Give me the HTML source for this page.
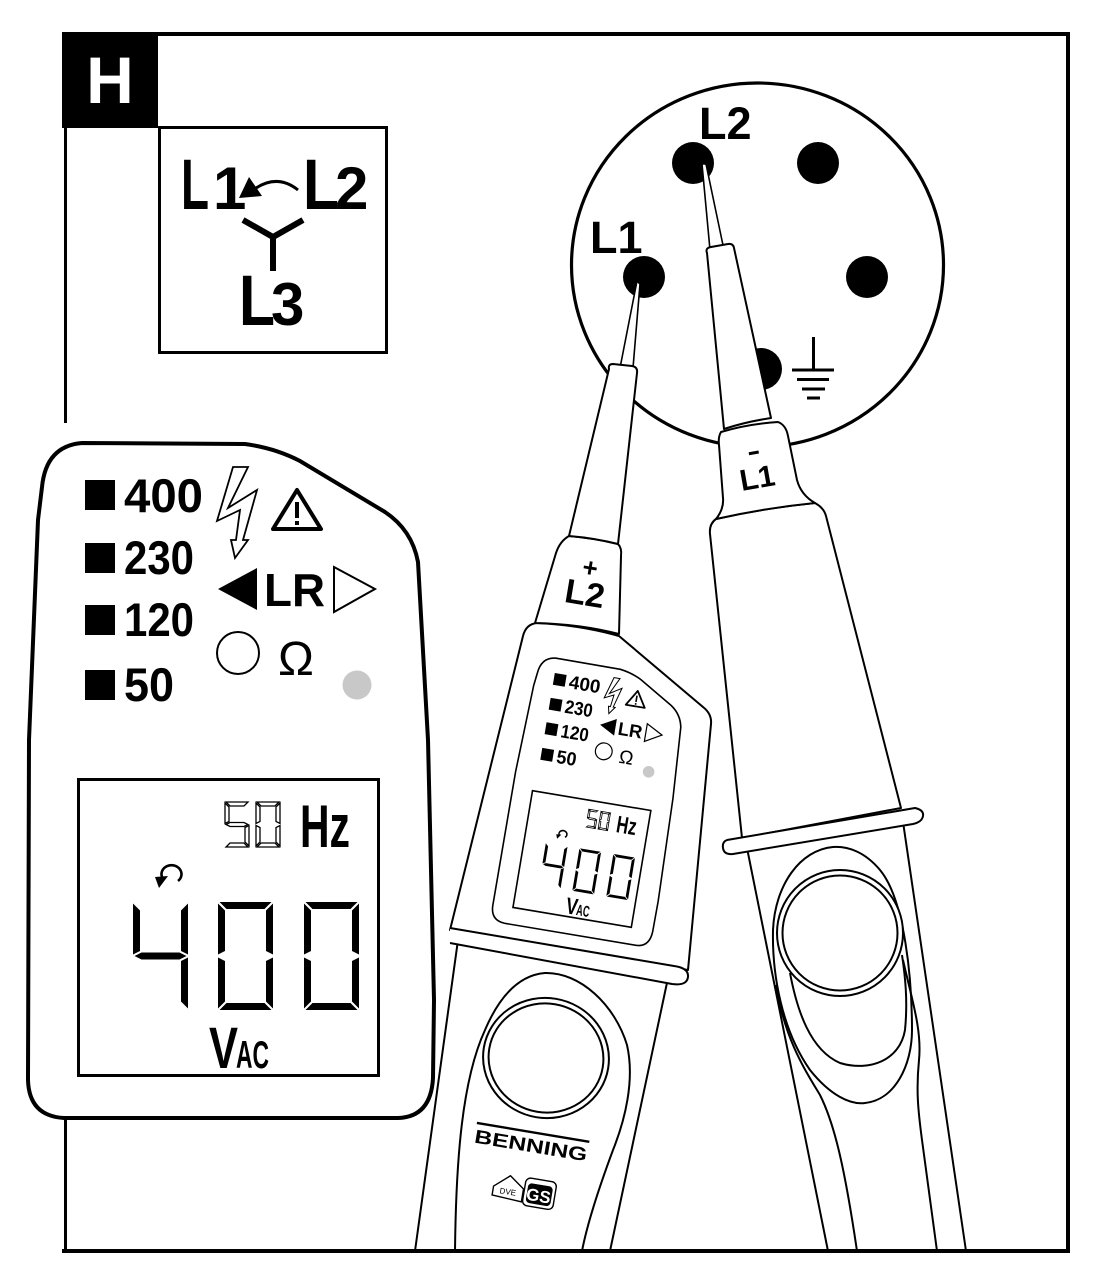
<!DOCTYPE html>
<html><head><meta charset="utf-8"><style>html,body{margin:0;padding:0;background:#fff}svg{display:block}</style></head>
<body>
<svg xmlns="http://www.w3.org/2000/svg" width="1094" height="1273" viewBox="0 0 1094 1273" font-family="'Liberation Sans', sans-serif">
<rect width="1094" height="1273" fill="#fff"/>

<!-- H box -->
<rect x="62" y="32" width="96" height="96" fill="#000"/>
<text x="110" y="103" font-size="66" font-weight="bold" fill="#fff" text-anchor="middle">H</text>

<!-- L box -->
<rect x="159.5" y="127.5" width="227" height="225" fill="none" stroke="#000" stroke-width="3"/>
<g font-family="'Liberation Sans Narrow','Liberation Sans',sans-serif" font-weight="bold">
<text x="181" y="209" font-size="71" textLength="28" lengthAdjust="spacingAndGlyphs">L</text>
<text x="213" y="209" font-size="60">1</text>
<text x="303" y="209" font-size="71" textLength="36" lengthAdjust="spacingAndGlyphs">L</text>
<text x="335" y="209" font-size="60">2</text>
<text x="239" y="325" font-size="71" textLength="36" lengthAdjust="spacingAndGlyphs">L</text>
<text x="271" y="325" font-size="60">3</text>
</g>
<polygon points="249,177 239,198 262,196" fill="#000"/>
<path d="M 256,188 Q 278,174 298,190" fill="none" stroke="#000" stroke-width="3"/>
<path d="M 243,220 L 273,237 L 303,220 M 273,237 L 273,271" fill="none" stroke="#000" stroke-width="6"/>

<!-- socket -->
<ellipse cx="757.5" cy="265" rx="186" ry="182" fill="#fff" stroke="#000" stroke-width="3.2"/>
<circle cx="693" cy="163" r="21"/>
<circle cx="818" cy="163" r="21"/>
<circle cx="867" cy="277" r="21"/>
<circle cx="644" cy="277" r="21"/>
<circle cx="761" cy="369" r="21"/>
<text x="699" y="139" font-size="45" font-weight="bold">L2</text>
<text x="590" y="253" font-size="45" font-weight="bold">L1</text>
<rect x="812" y="337" width="3" height="34"/>
<rect x="792" y="368.5" width="42" height="3"/>
<rect x="797" y="378" width="32" height="3"/>
<rect x="802" y="387.5" width="23" height="3"/>
<rect x="807" y="396.5" width="13" height="3"/>

<!-- RIGHT PROBE (L1) -->
<g stroke="#000" stroke-width="2" fill="#fff" stroke-linejoin="round">
<path d="M 747,848 L 828,1251 L 966,1251 L 902,815 Z"/>
<path d="M 833,847 C 800,850 775,885 773,930 C 772,975 782,1030 810,1070 C 830,1095 850,1105 865,1103 C 895,1100 912,1065 912,1030 C 912,980 905,900 880,870 C 865,852 848,846 833,847 Z" fill="none"/>
<path d="M 790,973 C 797,1010 810,1050 840,1063 C 870,1072 900,1060 905,1030 C 908,1000 905,975 902,955" fill="none"/>
<path d="M 776,985 C 785,1040 805,1070 820,1095 C 835,1125 845,1170 857,1251" fill="none"/>
<path d="M 903,960 C 912,1000 922,1030 919,1060 C 916,1090 918,1110 922,1140 L 937,1251" fill="none"/>
<circle cx="840" cy="933" r="63"/>
<circle cx="840" cy="933" r="57.5"/>
<path d="M 716,519 Q 765,508 815,503 Q 824,508 826,516 L 901,808 L 742,838 L 710,534 Q 709,524 716,519 Z"/>
<path d="M 727,840 L 915,808 Q 924,810 923,816 Q 922,822 913,824 L 733,854 Q 724,855 723,848 Q 722,842 727,840 Z"/>
<path d="M 721,432 Q 748,424 778,422 Q 786,425 788,436 L 797,480 Q 801,495 815,503 Q 765,508 716,519 Q 724,509 723,498 L 719,445 Q 718,437 721,432 Z"/>
<polygon points="702,164 706,164 724,250 710,250" stroke-width="1.6"/>
<path d="M 707,253 Q 705,248 711,247 L 728,244 Q 733,243 734,248 L 771,418 Q 745,422 724,429 Z"/>
</g>
<g transform="translate(759,488) rotate(-10)">
<text x="0" y="0" font-size="30" font-weight="bold" text-anchor="middle">L1</text>
<rect x="-4" y="-37" width="10" height="3"/>
</g>

<!-- LEFT PROBE (L2) -->
<g stroke="#000" stroke-width="2" fill="#fff" stroke-linejoin="round">
<path d="M 458,940 L 415,1251 L 610,1251 L 668,978 Z"/>
<path d="M 455,1251 C 456,1160 462,1080 485,1030 C 500,995 520,975 545,973 C 580,972 615,1005 627,1045 C 635,1080 625,1120 613,1150 C 600,1185 588,1220 582,1251" fill="none"/>
<ellipse cx="546" cy="1058" rx="63" ry="60" transform="rotate(9.5 546 1058)"/>
<ellipse cx="546" cy="1058" rx="57.5" ry="54.5" transform="rotate(9.5 546 1058)"/>
<path d="M 523,636 Q 526,624 537,623 Q 580,625 619,636 L 703,707 Q 712,714 711,724 L 688,970 L 450,930 Z"/>
<path d="M 450,928 L 674,966 Q 689,968 688,977 Q 687,986 672,984 L 450,943 Z" stroke="none"/>
<path d="M 450,928 L 674,966 Q 689,968 688,977 Q 687,986 672,984 L 450,943" fill="none"/>
<path d="M 569,536 Q 594,538 618,544 Q 622,548 621,556 L 619,634 Q 580,624 535,623 L 556,553 Q 560,541 569,536 Z"/>
<polygon points="637,281 640,284 633,368 620,368" stroke-width="1.6"/>
<path d="M 609,369 Q 608,364 613,364 L 632,366 Q 638,367 637,373 L 618,544 Q 594,538 569,536 Z"/>
</g>
<g transform="translate(583,605) rotate(9.5)" font-weight="bold">
<text x="0" y="0" font-size="34" text-anchor="middle">L2</text>
<text x="1" y="-29" font-size="26" text-anchor="middle">+</text>
</g>
<g transform="translate(531,1145) rotate(9.5)">
<rect x="-57" y="-14" width="114" height="2.4"/>
<text x="0" y="7" font-size="19" font-weight="bold" text-anchor="middle" textLength="114" lengthAdjust="spacingAndGlyphs">BENNING</text>
</g>
<g transform="translate(523,1192) rotate(9.5)">
<polygon points="-30,-1 -15,-14 0,-3 0,10 -30,8" fill="#fff" stroke="#000" stroke-width="1.4"/>
<text x="-15" y="5" font-size="8" text-anchor="middle">DVE</text>
<rect x="1" y="-15" width="31" height="28" rx="5" fill="#fff" stroke="#000" stroke-width="1.4"/>
<rect x="4" y="-10" width="25" height="20" rx="4" fill="#000"/>
<text x="16" y="7" font-size="17" font-weight="bold" text-anchor="middle" fill="#fff">GS</text>
</g>

<!-- small display on probe (scaled copy of panel) -->
<g transform="translate(532,790) rotate(9.5) scale(0.4) translate(-77,-778)">
<path d="M 38,520 L 42,487 Q 46,446 82,443 L 245,444 Q 275,448 300,461 L 385,512 Q 412,530 418,562 L 428,740 L 434,1000 L 433,1078 Q 431,1117 398,1118 L 64,1118 Q 29,1116 28,1080 L 29,740 Z" fill="#fff" stroke="#000" stroke-width="4"/>
<rect x="85" y="480" width="30" height="30"/>
<rect x="85" y="543" width="30" height="30"/>
<rect x="85" y="605" width="30" height="30"/>
<rect x="85" y="670" width="30" height="30"/>
<g font-weight="bold" font-size="47">
<text x="124" y="512" textLength="79" lengthAdjust="spacingAndGlyphs">400</text>
<text x="124" y="574" textLength="70" lengthAdjust="spacingAndGlyphs">230</text>
<text x="124" y="636" textLength="70" lengthAdjust="spacingAndGlyphs">120</text>
<text x="124" y="701" textLength="50" lengthAdjust="spacingAndGlyphs">50</text>
</g>
<polygon points="233,467 248,467 228,508 257,490 243,540 248,540 235,558 231,540 236,540 240,510 217,521" fill="#fff" stroke="#000" stroke-width="2.5"/>
<polygon points="297,490 321,529 273,529" fill="none" stroke="#000" stroke-width="4.5" stroke-linejoin="round"/>
<rect x="295" y="502" width="4" height="16"/><rect x="295" y="521" width="4" height="4"/>
<polygon points="218,589 257,568 257,610"/>
<text x="264" y="606" font-size="46" font-weight="bold" textLength="61" lengthAdjust="spacingAndGlyphs">LR</text>
<polygon points="334,567 375,589 334,612" fill="#fff" stroke="#000" stroke-width="3"/>
<circle cx="238" cy="653" r="21" fill="none" stroke="#000" stroke-width="3"/>
<text x="296" y="675" font-size="48" text-anchor="middle">Ω</text>
<circle cx="357" cy="685" r="14.5" fill="#c8c8c8"/>
<rect x="78.5" y="779.5" width="300" height="296" fill="#fff" stroke="#000" stroke-width="4"/>
<g fill="#fff" stroke="#000" stroke-width="2">
<polygon points="226,802 248,802 244,806 230,806"/><polygon points="225,803 229,807 229,821.5 225,823.5"/><polygon points="226,824.5 230,822.5 244,822.5 248,824.5 244,826.5 230,826.5"/><polygon points="249,825.5 249,846 245,842 245,827.5"/><polygon points="230,843 244,843 248,847 226,847"/>
<polygon points="257,802 279,802 275,806 261,806"/><polygon points="280,803 280,823.5 276,821.5 276,807"/><polygon points="280,825.5 280,846 276,842 276,827.5"/><polygon points="261,843 275,843 279,847 257,847"/><polygon points="256,825.5 260,827.5 260,842 256,846"/><polygon points="256,803 260,807 260,821.5 256,823.5"/>
</g>
<text x="300" y="847" font-size="60" font-weight="bold" font-family="'Liberation Sans Narrow','Liberation Sans',sans-serif" textLength="50" lengthAdjust="spacingAndGlyphs">Hz</text>
<path d="M 178,881 A 10 9 0 1 0 162,877" fill="none" stroke="#000" stroke-width="4"/>
<polygon points="155,877 168,876 159,888"/>
<g>
<polygon points="133,903.5 140,910.5 140,951 133,954.5"/><polygon points="134.5,956 141.5,952.5 179.5,952.5 186.5,956 179.5,959.5 141.5,959.5"/><polygon points="188,903.5 188,954.5 181,951 181,910.5"/><polygon points="188,957.5 188,1008.5 181,1001.5 181,961"/>
<polygon points="219.5,902 271.5,902 264.5,909 226.5,909"/><polygon points="273,903.5 273,954.5 266,951 266,910.5"/><polygon points="273,957.5 273,1008.5 266,1001.5 266,961"/><polygon points="226.5,1003 264.5,1003 271.5,1010 219.5,1010"/><polygon points="218,957.5 225,961 225,1001.5 218,1008.5"/><polygon points="218,903.5 225,910.5 225,951 218,954.5"/>
<polygon points="305.5,902 357.5,902 350.5,909 312.5,909"/><polygon points="359,903.5 359,954.5 352,951 352,910.5"/><polygon points="359,957.5 359,1008.5 352,1001.5 352,961"/><polygon points="312.5,1003 350.5,1003 357.5,1010 305.5,1010"/><polygon points="304,957.5 311,961 311,1001.5 304,1008.5"/><polygon points="304,903.5 311,910.5 311,951 304,954.5"/>
</g>
<g font-weight="bold" font-family="'Liberation Sans Narrow','Liberation Sans',sans-serif">
<text x="209" y="1068" font-size="58" textLength="29" lengthAdjust="spacingAndGlyphs">V</text>
<text x="236" y="1068" font-size="39" textLength="33" lengthAdjust="spacingAndGlyphs">AC</text>
</g>
</g>

<!-- BIG PANEL -->
<g>
<path d="M 38,520 L 42,487 Q 46,446 82,443 L 245,444 Q 275,448 300,461 L 385,512 Q 412,530 418,562 L 428,740 L 434,1000 L 433,1078 Q 431,1117 398,1118 L 64,1118 Q 29,1116 28,1080 L 29,740 Z" fill="#fff" stroke="#000" stroke-width="4"/>
<rect x="85" y="480" width="30" height="30"/>
<rect x="85" y="543" width="30" height="30"/>
<rect x="85" y="605" width="30" height="30"/>
<rect x="85" y="670" width="30" height="30"/>
<g font-weight="bold" font-size="47">
<text x="124" y="512" textLength="79" lengthAdjust="spacingAndGlyphs">400</text>
<text x="124" y="574" textLength="70" lengthAdjust="spacingAndGlyphs">230</text>
<text x="124" y="636" textLength="70" lengthAdjust="spacingAndGlyphs">120</text>
<text x="124" y="701" textLength="50" lengthAdjust="spacingAndGlyphs">50</text>
</g>
<polygon points="233,467 248,467 228,508 257,490 243,540 248,540 235,558 231,540 236,540 240,510 217,521" fill="#fff" stroke="#000" stroke-width="1.8"/>
<polygon points="297,490 321,529 273,529" fill="none" stroke="#000" stroke-width="4" stroke-linejoin="round"/>
<rect x="295" y="502" width="4" height="16"/><rect x="295" y="521" width="4" height="4"/>
<polygon points="218,589 257,568 257,610"/>
<text x="264" y="606" font-size="46" font-weight="bold" textLength="61" lengthAdjust="spacingAndGlyphs">LR</text>
<polygon points="334,567 375,589 334,612" fill="#fff" stroke="#000" stroke-width="2"/>
<circle cx="238" cy="653" r="21" fill="none" stroke="#000" stroke-width="2"/>
<text x="296" y="675" font-size="48" text-anchor="middle">Ω</text>
<circle cx="357" cy="685" r="14.5" fill="#c8c8c8"/>
<rect x="78.5" y="779.5" width="300" height="296" fill="#fff" stroke="#000" stroke-width="3"/>
<g fill="#fff" stroke="#000" stroke-width="1.3">
<polygon points="226,802 248,802 244,806 230,806"/><polygon points="225,803 229,807 229,821.5 225,823.5"/><polygon points="226,824.5 230,822.5 244,822.5 248,824.5 244,826.5 230,826.5"/><polygon points="249,825.5 249,846 245,842 245,827.5"/><polygon points="230,843 244,843 248,847 226,847"/>
<polygon points="257,802 279,802 275,806 261,806"/><polygon points="280,803 280,823.5 276,821.5 276,807"/><polygon points="280,825.5 280,846 276,842 276,827.5"/><polygon points="261,843 275,843 279,847 257,847"/><polygon points="256,825.5 260,827.5 260,842 256,846"/><polygon points="256,803 260,807 260,821.5 256,823.5"/>
</g>
<text x="300" y="847" font-size="60" font-weight="bold" font-family="'Liberation Sans Narrow','Liberation Sans',sans-serif" textLength="50" lengthAdjust="spacingAndGlyphs">Hz</text>
<path d="M 178,881 A 10 9 0 1 0 162,877" fill="none" stroke="#000" stroke-width="2.6"/>
<polygon points="155,877 168,876 159,888"/>
<g>
<polygon points="133,903.5 140,910.5 140,951 133,954.5"/><polygon points="134.5,956 141.5,952.5 179.5,952.5 186.5,956 179.5,959.5 141.5,959.5"/><polygon points="188,903.5 188,954.5 181,951 181,910.5"/><polygon points="188,957.5 188,1008.5 181,1001.5 181,961"/>
<polygon points="219.5,902 271.5,902 264.5,909 226.5,909"/><polygon points="273,903.5 273,954.5 266,951 266,910.5"/><polygon points="273,957.5 273,1008.5 266,1001.5 266,961"/><polygon points="226.5,1003 264.5,1003 271.5,1010 219.5,1010"/><polygon points="218,957.5 225,961 225,1001.5 218,1008.5"/><polygon points="218,903.5 225,910.5 225,951 218,954.5"/>
<polygon points="305.5,902 357.5,902 350.5,909 312.5,909"/><polygon points="359,903.5 359,954.5 352,951 352,910.5"/><polygon points="359,957.5 359,1008.5 352,1001.5 352,961"/><polygon points="312.5,1003 350.5,1003 357.5,1010 305.5,1010"/><polygon points="304,957.5 311,961 311,1001.5 304,1008.5"/><polygon points="304,903.5 311,910.5 311,951 304,954.5"/>
</g>
<g font-weight="bold" font-family="'Liberation Sans Narrow','Liberation Sans',sans-serif">
<text x="209" y="1068" font-size="58" textLength="29" lengthAdjust="spacingAndGlyphs">V</text>
<text x="236" y="1068" font-size="39" textLength="33" lengthAdjust="spacingAndGlyphs">AC</text>
</g>
</g>

<!-- frame -->
<rect x="62" y="32" width="1008" height="4"/>
<rect x="1066" y="32" width="4" height="1221"/>
<rect x="62" y="1249" width="1008" height="4"/>
<rect x="64" y="127" width="3" height="296"/>
<rect x="64" y="1116" width="3" height="137"/>
</svg>
</body></html>
